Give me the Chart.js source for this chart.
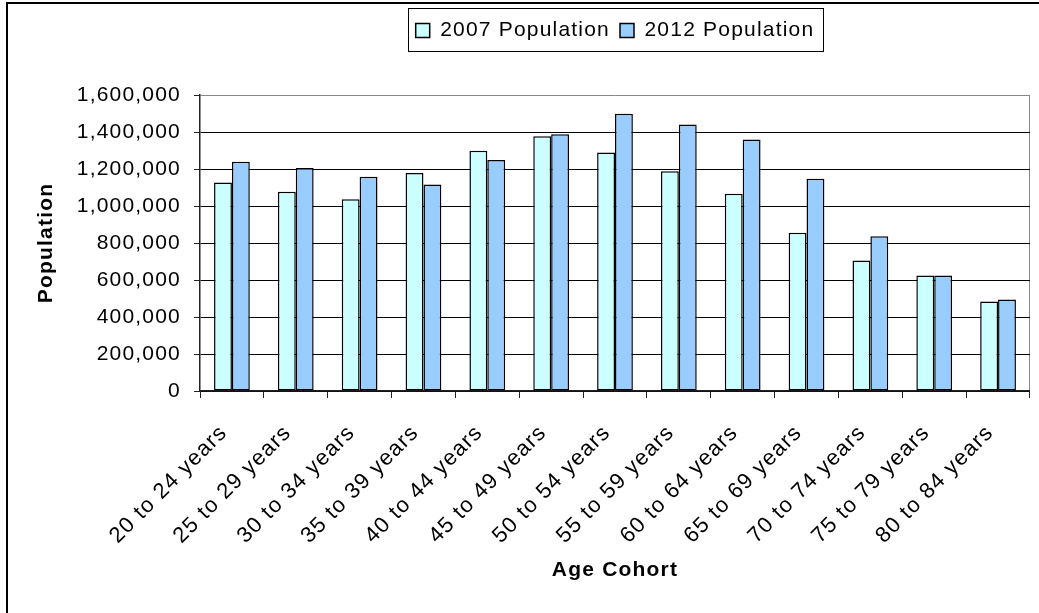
<!DOCTYPE html>
<html>
<head>
<meta charset="utf-8">
<title>Population by Age Cohort, 2007 and 2012</title>
<script src="https://cdn.jsdelivr.net/npm/chart.js@4.4.1/dist/chart.umd.min.js"></script>
<style>
  html, body { margin: 0; padding: 0; background: #fff; overflow: hidden; }
  #wrap { position: relative; width: 1039px; height: 613px; overflow: hidden; }
  #frame { position: absolute; left: 6px; top: 2px; width: 1100px; height: 700px;
           border-left: 2px solid #000; border-top: 2px solid #000; }
  #c { position: absolute; left: 0; top: 0; }
</style>
</head>
<body>
<div id="wrap">
  <div id="frame"></div>
  <canvas id="c" width="1039" height="613"></canvas>
</div>
<script>
// Age cohorts on the category axis
const ageCohorts = [
  '20 to 24 years', '25 to 29 years', '30 to 34 years', '35 to 39 years',
  '40 to 44 years', '45 to 49 years', '50 to 54 years', '55 to 59 years',
  '60 to 64 years', '65 to 69 years', '70 to 74 years', '75 to 79 years',
  '80 to 84 years'
];

// Population counts per cohort
const population2007 = [
  1127000, 1077000, 1037000, 1178000, 1298000, 1377000, 1289000,
  1188000, 1066000, 856000, 705000, 624000, 484000
];
const population2012 = [
  1239000, 1206000, 1158000, 1116000, 1248000, 1388000, 1499000,
  1440000, 1359000, 1147000, 836000, 624000, 494000
];

const seriesNames = ['2007 Population', '2012 Population'];

// Value axis range
const yMin = 0;
const yMax = 1600000;
const yStep = 200000;

const FONT = "'Liberation Sans', Arial, Helvetica, sans-serif";
const FONT_SIZE = 21;
const CATEGORY_FONT_SIZE = 22;
const TEXT_SPACING = '1.2px';
const LEGEND_CENTER_Y = 30.5;

// Slightly wider glyph spacing for all chart text
const textSpacing = {
  id: 'textSpacing',
  beforeLayout(chart) { chart.ctx.letterSpacing = TEXT_SPACING; },
  beforeDraw(chart) { chart.ctx.letterSpacing = TEXT_SPACING; }
};

// Centre the legend over the plot area and frame it with a box
const legendFrame = {
  id: 'legendFrame',
  afterUpdate(chart) {
    const lg = chart.legend;
    if (!lg || !lg.legendHitBoxes || !lg.legendHitBoxes.length) return;
    const hb = lg.legendHitBoxes;
    const l = Math.min(...hb.map(b => b.left));
    const r = Math.max(...hb.map(b => b.left + b.width));
    const a = chart.chartArea;
    const dx = (a.left + a.right) / 2 - (l + r) / 2;
    const dy = LEGEND_CENTER_Y - (hb[0].top + hb[0].height / 2);
    lg.left += dx; lg.right += dx;
    lg.top += dy; lg.bottom += dy;
    hb.forEach(b => { b.left += dx; b.top += dy; });
  },
  afterDraw(chart) {
    const lg = chart.legend;
    if (!lg || !lg.legendHitBoxes || !lg.legendHitBoxes.length) return;
    const hb = lg.legendHitBoxes;
    const l = Math.min(...hb.map(b => b.left));
    const r = Math.max(...hb.map(b => b.left + b.width));
    const t = Math.min(...hb.map(b => b.top));
    const btm = Math.max(...hb.map(b => b.top + b.height));
    const ctx = chart.ctx;
    ctx.save();
    ctx.strokeStyle = '#000';
    ctx.lineWidth = 1;
    ctx.strokeRect(Math.round(l - 8) + 0.5, Math.round(t - 12) + 0.5,
                   Math.round(r - l + 16), Math.round(btm - t + 22));
    ctx.restore();
  }
};

new Chart(document.getElementById('c'), {
  type: 'bar',
  data: {
    labels: ageCohorts,
    datasets: [
      {
        label: seriesNames[0],
        data: population2007,
        backgroundColor: '#CCFFFF',
        borderColor: '#000000',
        borderWidth: 1.5,
        borderSkipped: false
      },
      {
        label: seriesNames[1],
        data: population2012,
        backgroundColor: '#99CCFF',
        borderColor: '#000000',
        borderWidth: 1.5,
        borderSkipped: false
      }
    ]
  },
  options: {
    responsive: false,
    animation: false,
    devicePixelRatio: 1,
    layout: { padding: { top: 54, right: 7, bottom: 0, left: 0 } },
    datasets: {
      bar: { categoryPercentage: 0.56, barPercentage: 1.0 }
    },
    plugins: {
      legend: {
        position: 'top',
        labels: {
          font: { family: FONT, size: FONT_SIZE },
          color: '#000',
          boxWidth: 14,
          boxHeight: 14,
          padding: 10
        }
      },
      tooltip: { enabled: false }
    },
    scales: {
      x: {
        grid: {
          offset: true,
          drawOnChartArea: true,
          color: ctx => (ctx.type === 'scale' ? '#888888' : 'rgba(0,0,0,0)'),
          tickColor: '#222',
          tickLength: 7,
          lineWidth: 1
        },
        border: { color: '#222', width: 1.5 },
        ticks: {
          autoSkip: false,
          minRotation: 45,
          maxRotation: 45,
          padding: 22,
          labelOffset: -8,
          color: '#000',
          font: { family: FONT, size: CATEGORY_FONT_SIZE }
        },
        title: {
          display: true,
          text: 'Age Cohort',
          color: '#000',
          font: { family: FONT, size: FONT_SIZE, weight: 'bold' },
          padding: { top: 0, bottom: 30 }
        },
        afterFit(scale) { scale.height = 222; }
      },
      y: {
        min: yMin,
        max: yMax,
        grid: {
          color: ctx => (ctx.tick && ctx.tick.value === yMax ? '#888888' : '#000000'),
          tickColor: '#222',
          tickLength: 6,
          lineWidth: 1
        },
        border: { color: '#222', width: 1.5 },
        ticks: {
          stepSize: yStep,
          padding: 13,
          color: '#000',
          font: { family: FONT, size: FONT_SIZE },
          callback: v => Number(v).toLocaleString('en-US')
        },
        title: {
          display: true,
          text: 'Population',
          color: '#000',
          font: { family: FONT, size: FONT_SIZE, weight: 'bold' },
          padding: { top: 34, bottom: 0 }
        },
        afterFit(scale) { scale.width = 200; }
      }
    }
  },
  plugins: [textSpacing, legendFrame]
});
</script>
</body>
</html>
